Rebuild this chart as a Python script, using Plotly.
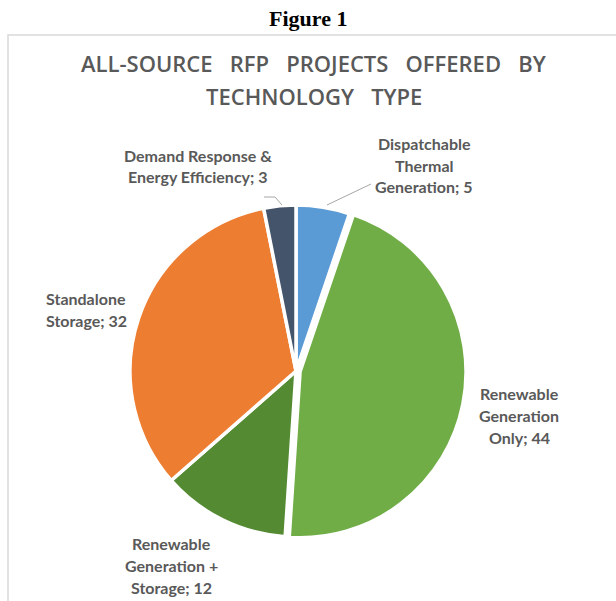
import plotly.graph_objects as go

W, H = 616, 601

categories = ["Dispatchable Thermal Generation", "Renewable Generation Only",
              "Renewable Generation + Storage", "Standalone Storage",
              "Demand Response & Energy Efficiency"]
values = [5, 44, 12, 32, 3]
label_lines = [["Dispatchable", "Thermal", "Generation; {v}"],
               ["Renewable", "Generation", "Only; {v}"],
               ["Renewable", "Generation +", "Storage; {v}"],
               ["Standalone", "Storage; {v}"],
               ["Demand Response &", "Energy Efficiency; {v}"]]
colors = ["#5B9BD5", "#70AD47", "#538A32", "#ED7D31", "#44546A"]
pulls = [0, 0.025, 0, 0, 0]

# label anchor positions in pixels (centre x, top-line y)
label_pos = [(424, 143), (519, 393), (171, 543), (86, 298), (198, 155)]

def px(x):
    return x / W

def py(y):
    return 1 - y / H

cx, cy, r = 296, 371, 166
half = r * (1 + max(pulls))

fig = go.Figure(go.Pie(
    labels=categories, values=values, sort=False, direction="clockwise",
    rotation=0, textinfo="none", hoverinfo="label+value", pull=pulls,
    marker=dict(colors=colors, line=dict(color="white", width=3.5)),
    domain=dict(x=[px(cx - half), px(cx + half)], y=[py(cy + half), py(cy - half)]),
    showlegend=False,
))

title_font = dict(family="Open Sans", size=22, color="#595959", weight=600)
annotations = [
    dict(text="<b>Figure 1</b>", x=px(308), y=py(19), xref="paper", yref="paper",
         showarrow=False, font=dict(family="Liberation Serif", size=22, color="black"),
         xanchor="center", yanchor="middle"),
    dict(text="ALL-SOURCE   RFP   PROJECTS   OFFERED   BY", x=px(314), y=py(63),
         xref="paper", yref="paper", showarrow=False, font=title_font,
         xanchor="center", yanchor="middle"),
    dict(text="TECHNOLOGY   TYPE", x=px(314), y=py(96),
         xref="paper", yref="paper", showarrow=False, font=title_font,
         xanchor="center", yanchor="middle"),
]
for lines, v, (lx, ly) in zip(label_lines, values, label_pos):
    for i, t in enumerate(lines):
        annotations.append(dict(
            text=t.format(v=v), x=px(lx), y=py(ly + 22 * i), xref="paper", yref="paper",
            showarrow=False, xanchor="center", yanchor="middle",
            font=dict(family="Lato", size=16, color="#595959", weight="bold")))

shapes = [
    dict(type="rect", xref="paper", yref="paper", x0=px(8), x1=px(640),
         y0=py(640), y1=py(35), line=dict(color="#D9D9D9", width=1.5)),
    dict(type="path", xref="paper", yref="paper",
         path=f"M {px(327)} {py(205)} L {px(371)} {py(184)}",
         line=dict(color="#A6A6A6", width=1)),
    dict(type="path", xref="paper", yref="paper",
         path=f"M {px(282)} {py(205)} L {px(275)} {py(197)} L {px(264)} {py(197)}",
         line=dict(color="#A6A6A6", width=1)),
]

fig.update_layout(width=W, height=H, margin=dict(l=0, r=0, t=0, b=0),
                  paper_bgcolor="white", plot_bgcolor="white",
                  annotations=annotations, shapes=shapes)
fig.write_html("out.html")
